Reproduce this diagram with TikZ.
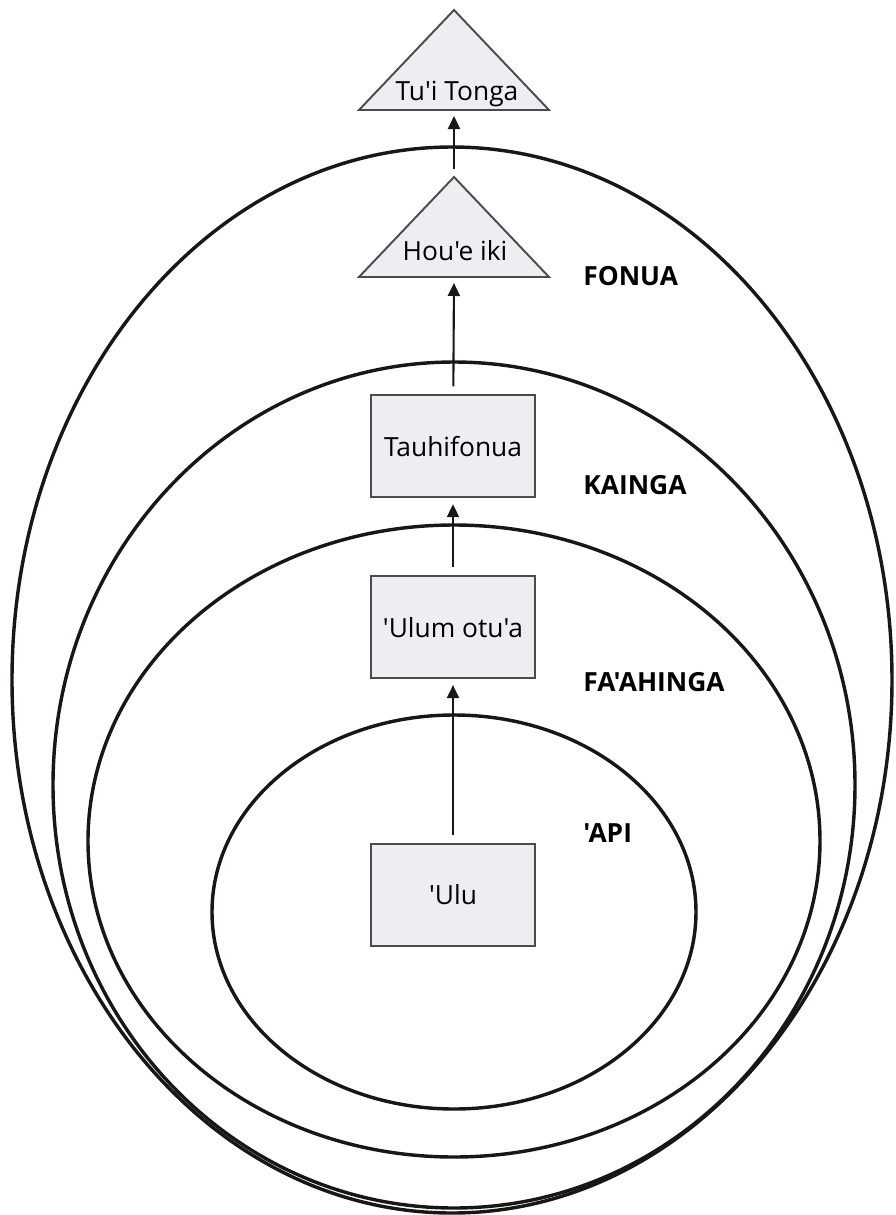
\documentclass[tikz,border=0pt]{standalone}
\usepackage{fontspec}
\setmainfont{Open Sans}[Ligatures=TeXOff]
\usetikzlibrary{arrows.meta, positioning}

\definecolor{boxfill}{RGB}{238,238,242}
\definecolor{boxline}{RGB}{75,75,75}
\definecolor{ink}{RGB}{25,22,22}

\begin{document}
\begin{tikzpicture}[
    x=0.02cm, y=-0.02cm,
    ring/.style={draw=ink, line width=1.95pt},
    rank/.style={rectangle, draw=boxline, fill=boxfill, line width=1.1pt,
        minimum width=3.28cm, minimum height=2.04cm, inner sep=0pt,
        font=\fontsize{15}{18}\selectfont},
    chief/.style={draw=boxline, fill=boxfill, line width=1.1pt},
    title/.style={anchor=base, inner sep=0pt, font=\fontsize{15}{18}\selectfont},
    level/.style={anchor=base west, inner sep=0pt,
        font=\fontsize{15}{18}\selectfont\bfseries},
    arrow/.style={-{Triangle[length=2.6mm, width=2.4mm]}, draw=ink,
        line width=1.2pt, shorten <=0.16cm, shorten >=0.12cm}
]
\useasboundingbox (0,0) rectangle (896,1215);

% nested groups, outermost first
\draw[ring] (452,680) ellipse [x radius=440, y radius=533];
\draw[ring] (454,785) ellipse [x radius=401, y radius=423];
\draw[ring] (454,841) ellipse [x radius=366, y radius=316];
\draw[ring] (454,912) ellipse [x radius=242, y radius=197];

% group names
\node[level] (fonua) at (583,285) {FONUA};
\node[level] (kainga) at (583,494) {KAINGA};
\node[level] (faahinga) at (583,691) {FA'AHINGA};
\node[level] (api) at (583,842) {'API};

% chiefly titles
\coordinate (tt-top) at (454,10);
\coordinate (tt-base) at (454,110);
\filldraw[chief] (tt-top) -- (549,110) -- (359,110) -- cycle;
\node[title] (tuitonga) at (457,100) {Tu'i Tonga};

\coordinate (hi-top) at (454,177);
\coordinate (hi-base) at (454,277);
\filldraw[chief] (hi-top) -- (549,277) -- (359,277) -- cycle;
\node[title] (houeiki) at (455,260) {Hou'e iki};

% ranks
\node[rank] (ulu) at (453,895) {'Ulu};
\node[rank] (ulumotua) [above=3.28cm of ulu] {'Ulum otu'a};
\node[rank] (tauhifonua) [above=1.54cm of ulumotua] {Tauhifonua};

\draw[arrow] (ulu) -- (ulumotua);
\draw[arrow] (ulumotua) -- (tauhifonua);
\draw[arrow] (tauhifonua) -- (hi-base);
\draw[arrow] (hi-top) -- (tt-base);
\end{tikzpicture}
\end{document}
